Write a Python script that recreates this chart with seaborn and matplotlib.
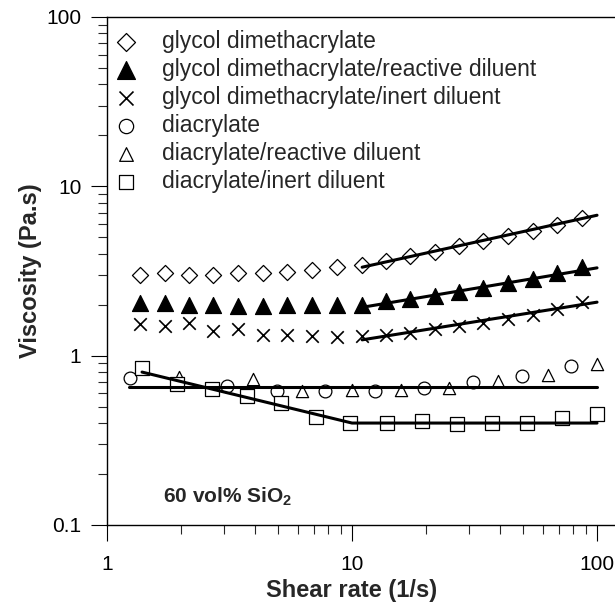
import matplotlib
matplotlib.use('Agg')
import matplotlib.pyplot as plt
import seaborn as sns
from matplotlib.ticker import FixedLocator, LogLocator, NullFormatter, FuncFormatter

# shear rate for the glycol dimethacrylate series (1/s)
gd_x = [1.36, 1.72, 2.17, 2.72, 3.42, 4.32, 5.44, 6.85, 8.66,
        10.96, 13.7, 17.2, 21.8, 27.3, 34.4, 43.2, 54.7, 68.7, 86.8]
# viscosity (Pa.s)
gd_y = [3.0, 3.06, 3.01, 3.0, 3.06, 3.08, 3.13, 3.22, 3.32,
        3.42, 3.61, 3.87, 4.08, 4.43, 4.75, 5.08, 5.44, 5.88, 6.47]
gdr_y = [2.05, 2.05, 1.98, 1.98, 1.96, 1.96, 1.98, 1.98, 2.0,
         2.0, 2.10, 2.17, 2.24, 2.37, 2.52, 2.67, 2.82, 3.07, 3.35]
gdi_y = [1.53, 1.50, 1.55, 1.39, 1.44, 1.33, 1.33, 1.30, 1.29,
         1.30, 1.33, 1.37, 1.43, 1.49, 1.56, 1.65, 1.75, 1.89, 2.07]

# diacrylate
da_x = [1.24, 3.09, 4.94, 7.76, 12.4, 19.7, 31.2, 49.4, 78.3]
da_y = [0.738, 0.658, 0.615, 0.615, 0.615, 0.644, 0.695, 0.762, 0.865]
# diacrylate/reactive diluent
dar_x = [1.97, 3.94, 6.25, 10.0, 15.8, 24.9, 39.4, 63.1, 100]
dar_y = [0.748, 0.728, 0.615, 0.623, 0.629, 0.644, 0.705, 0.772, 0.897]
# diacrylate/inert diluent
dai_x = [1.39, 1.93, 2.67, 3.72, 5.13, 7.11, 9.82, 13.9, 19.3, 26.7, 37.2, 51.6, 71.8, 99.7]
dai_y = [0.846, 0.683, 0.635, 0.574, 0.525, 0.437, 0.400, 0.403, 0.409, 0.396, 0.403, 0.403, 0.428, 0.454]

# fitted lines
fit_up_x = [11.0, 100]
gd_fit_y = [3.33, 6.75]
gdr_fit_y = [1.93, 3.3]
gdi_fit_y = [1.24, 2.07]
da_fit_x = [1.23, 100]
da_fit_y = [0.655, 0.655]
dai_fit_x = [1.39, 10, 100]
dai_fit_y = [0.80, 0.40, 0.40]

sns.set_theme(style='ticks')
plt.rcParams['font.family'] = ['Liberation Sans', 'DejaVu Sans']
plt.rcParams['mathtext.fontset'] = 'custom'
plt.rcParams['mathtext.rm'] = 'Liberation Sans'
plt.rcParams['mathtext.bf'] = 'Liberation Sans:bold'

fig = plt.figure(figsize=(6.15, 6.11), dpi=100)
ax = fig.add_axes([107 / 615, 1 - 525 / 611, 1 - 107 / 615, (525 - 17) / 611])

series = [
    (gd_x, gd_y, 'D', 'white', 8.2, 'glycol dimethacrylate'),
    (gd_x, gdr_y, '^', 'black', 11.5, 'glycol dimethacrylate/reactive diluent'),
    (gd_x, gdi_y, 'x', 'black', 9.0, 'glycol dimethacrylate/inert diluent'),
    (da_x, da_y, 'o', 'white', 9.2, 'diacrylate'),
    (dar_x, dar_y, '^', 'white', 8.8, 'diacrylate/reactive diluent'),
    (dai_x, dai_y, 's', 'white', 9.6, 'diacrylate/inert diluent'),
]
for xs, ys, mk, fc, ms, lab in series:
    if mk == 'x':
        sns.scatterplot(x=xs, y=ys, marker=mk, s=ms ** 2, color='black',
                        linewidth=1.2, label=lab, ax=ax, zorder=3)
    else:
        sns.scatterplot(x=xs, y=ys, marker=mk, s=ms ** 2, facecolor=fc,
                        edgecolor='black', linewidth=0.9, label=lab, ax=ax, zorder=3)

for xs, ys in [(fit_up_x, gd_fit_y), (fit_up_x, gdr_fit_y), (fit_up_x, gdi_fit_y),
               (da_fit_x, da_fit_y), (dai_fit_x, dai_fit_y)]:
    sns.lineplot(x=xs, y=ys, color='black', linewidth=2.2, sort=False,
                 estimator=None, ax=ax, zorder=4)

ax.set_xscale('log')
ax.set_yscale('log')
ax.set_xlim(1, 118.4)
ax.set_ylim(0.1, 100)

fmt = FuncFormatter(lambda v, p: '%g' % v)
ax.xaxis.set_major_locator(FixedLocator([1, 10, 100]))
ax.yaxis.set_major_locator(FixedLocator([0.1, 1, 10, 100]))
ax.xaxis.set_major_formatter(fmt)
ax.yaxis.set_major_formatter(fmt)
ax.xaxis.set_minor_locator(LogLocator(base=10, subs=range(2, 10)))
ax.yaxis.set_minor_locator(LogLocator(base=10, subs=range(2, 10)))
ax.xaxis.set_minor_formatter(NullFormatter())
ax.yaxis.set_minor_formatter(NullFormatter())
ax.tick_params(which='major', direction='out', length=11.5, width=0.8,
               labelsize=15, colors='black', pad=7)
ax.tick_params(axis='x', which='major', pad=10)
ax.tick_params(which='minor', direction='out', length=6.5, width=0.8)

for side in ['left', 'bottom', 'top']:
    ax.spines[side].set_linewidth(1.0)
    ax.spines[side].set_color('black')
ax.spines['right'].set_visible(False)

ax.set_xlabel('Shear rate (1/s)', fontsize=17, fontweight='bold')
ax.set_ylabel('Viscosity (Pa.s)', fontsize=17, fontweight='bold')
ax.xaxis.set_label_coords((352 - 107) / (615 - 107), -0.107)
ax.yaxis.set_label_coords(-0.128, 0.5)

ax.text(1.69, 0.147, r'60 vol% SiO$_\mathbf{2}$', fontsize=15, fontweight='bold',
        va='center', ha='left')

leg = ax.legend(loc='upper left', bbox_to_anchor=(-0.013, 0.997), frameon=False,
                fontsize=16.5, handletextpad=1.0, labelspacing=0.215,
                borderaxespad=0.1, handlelength=1.2)
for h in leg.legend_handles:
    h.set_sizes([h.get_sizes()[0] * 1.25])

fig.savefig('out.png', dpi=100)
